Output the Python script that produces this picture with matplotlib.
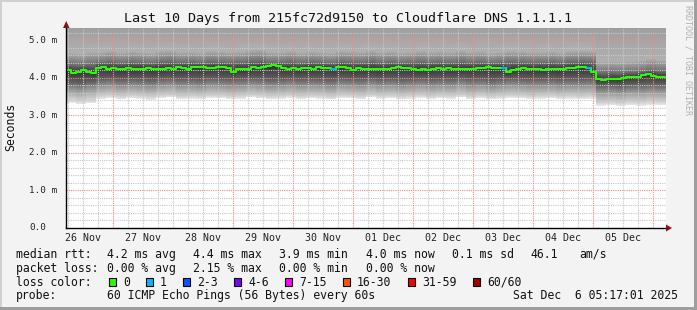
import numpy as np
import matplotlib
matplotlib.use("Agg")
import matplotlib.pyplot as plt
from matplotlib.patches import Polygon, Rectangle
from datetime import datetime

# ---------------- data ----------------
title = "Last 10 Days from 215fc72d9150 to Cloudflare DNS 1.1.1.1"
start_time = datetime(2025, 11, 26, 5, 17, 1)
span_hours = 240
day_labels = ["26 Nov", "27 Nov", "28 Nov", "29 Nov", "30 Nov",
              "01 Dec", "02 Dec", "03 Dec", "04 Dec", "05 Dec"]
y_ticks = [0.0, 1.0, 2.0, 3.0, 4.0, 5.0]
y_tick_labels = ["0.0", "1.0 m", "2.0 m", "3.0 m", "4.0 m", "5.0 m"]
y_top = 5.333

# median rtt (ms), one value per 2 hours
median_rtt = [
    4.21, 4.14, 4.17, 4.20, 4.16, 4.13,
    4.27, 4.28, 4.25, 4.26, 4.24,
    4.24, 4.27, 4.23, 4.25, 4.25, 4.26, 4.24, 4.25,
    4.24, 4.26, 4.23, 4.28, 4.27, 4.25, 4.28, 4.30, 4.28, 4.26, 4.27, 4.28,
    4.28, 4.27, 4.17, 4.23, 4.23, 4.24, 4.28, 4.27, 4.29, 4.31, 4.34, 4.32,
    4.26, 4.25, 4.26, 4.24, 4.26, 4.27, 4.25, 4.28, 4.26, 4.27, 4.25, 4.28,
    4.29, 4.27, 4.22, 4.26, 4.25, 4.24, 4.25,
    4.24, 4.23, 4.25, 4.27, 4.28, 4.27, 4.26, 4.23, 4.22, 4.23, 4.22, 4.25,
    4.26, 4.24, 4.26, 4.25, 4.23, 4.24, 4.25, 4.24, 4.26, 4.27, 4.28, 4.27,
    4.26, 4.27, 4.15, 4.22, 4.24, 4.26, 4.25,
    4.23, 4.24, 4.22, 4.25, 4.24, 4.23, 4.25, 4.26, 4.27, 4.28, 4.28, 4.26,
    4.15, 3.98, 3.95, 3.96, 3.98, 3.97, 4.01, 4.02, 4.02, 4.03, 4.07, 4.10,
    4.06, 4.03, 4.03,
]
# 2-hour slots where one ping of 60 was lost
loss_slots = [53, 87, 104]

# smoke boundaries (ms), one value per 4 hours, from lowest ping upwards
smoke_b0 = [3.33, 3.30, 3.32,
    3.44, 3.46, 3.43, 3.47, 3.45, 3.42, 3.46,
    3.48, 3.44, 3.45, 3.43, 3.47, 3.46, 3.44,
    3.45, 3.48, 3.46, 3.43, 3.45, 3.47, 3.44,
    3.46, 3.45, 3.43, 3.47, 3.46, 3.44, 3.48,
    3.45, 3.46, 3.43, 3.45, 3.47, 3.44, 3.46,
    3.45, 3.48, 3.44, 3.46, 3.43, 3.45, 3.47,
    3.46, 3.44, 3.45, 3.46, 3.43, 3.45, 3.44, 3.45,
    3.26, 3.27, 3.25, 3.27, 3.26, 3.28, 3.27]
smoke_b1 = [3.45, 3.42, 3.46,
    3.53, 3.55, 3.52, 3.54, 3.53, 3.51, 3.55,
    3.56, 3.52, 3.53, 3.52, 3.55, 3.54, 3.52,
    3.53, 3.56, 3.54, 3.52, 3.53, 3.55, 3.52,
    3.54, 3.53, 3.51, 3.55, 3.54, 3.52, 3.56,
    3.53, 3.54, 3.52, 3.53, 3.55, 3.52, 3.54,
    3.53, 3.56, 3.52, 3.54, 3.51, 3.53, 3.55,
    3.54, 3.52, 3.53, 3.54, 3.52, 3.53, 3.52, 3.53,
    3.36, 3.37, 3.35, 3.38, 3.37, 3.39, 3.38]
smoke_b2 = [3.68, 3.66, 3.70,
    3.76, 3.78, 3.74, 3.77, 3.75, 3.73, 3.77,
    3.79, 3.75, 3.76, 3.74, 3.78, 3.77, 3.75,
    3.76, 3.79, 3.77, 3.74, 3.76, 3.78, 3.75,
    3.77, 3.76, 3.73, 3.78, 3.77, 3.75, 3.79,
    3.76, 3.77, 3.74, 3.76, 3.78, 3.75, 3.77,
    3.76, 3.79, 3.75, 3.77, 3.73, 3.76, 3.78,
    3.77, 3.75, 3.76, 3.77, 3.74, 3.76, 3.75, 3.76,
    3.60, 3.61, 3.59, 3.62, 3.61, 3.63, 3.62]
smoke_b3 = [3.88, 3.86, 3.90,
    3.97, 3.98, 3.95, 3.97, 3.96, 3.94, 3.98,
    3.99, 3.96, 3.97, 3.95, 3.98, 3.97, 3.96,
    3.97, 3.99, 3.98, 3.95, 3.96, 3.98, 3.96,
    3.97, 3.96, 3.94, 3.98, 3.97, 3.96, 3.99,
    3.96, 3.97, 3.95, 3.96, 3.98, 3.96, 3.97,
    3.96, 3.99, 3.96, 3.97, 3.94, 3.96, 3.98,
    3.97, 3.96, 3.96, 3.97, 3.95, 3.96, 3.96, 3.97,
    3.80, 3.81, 3.79, 3.82, 3.83, 3.84, 3.83]
smoke_b4 = [4.36, 4.34, 4.37,
    4.42, 4.44, 4.41, 4.43, 4.42, 4.40, 4.44,
    4.45, 4.42, 4.43, 4.41, 4.44, 4.43, 4.42,
    4.43, 4.46, 4.47, 4.42, 4.42, 4.44, 4.41,
    4.43, 4.42, 4.40, 4.44, 4.43, 4.42, 4.45,
    4.42, 4.43, 4.41, 4.42, 4.44, 4.42, 4.43,
    4.42, 4.45, 4.42, 4.43, 4.40, 4.42, 4.44,
    4.43, 4.42, 4.42, 4.43, 4.41, 4.44, 4.45, 4.44,
    4.14, 4.15, 4.14, 4.16, 4.18, 4.22, 4.19]
smoke_b5 = [4.68, 4.66, 4.70,
    4.70, 4.73, 4.69, 4.72, 4.70, 4.68, 4.73,
    4.74, 4.70, 4.71, 4.69, 4.73, 4.72, 4.70,
    4.71, 4.75, 4.76, 4.70, 4.70, 4.73, 4.69,
    4.72, 4.70, 4.68, 4.73, 4.72, 4.70, 4.74,
    4.70, 4.72, 4.69, 4.70, 4.73, 4.70, 4.72,
    4.70, 4.74, 4.70, 4.72, 4.68, 4.70, 4.73,
    4.72, 4.70, 4.70, 4.72, 4.69, 4.73, 4.74, 4.73,
    4.44, 4.45, 4.44, 4.46, 4.48, 4.52, 4.49]

loss_names = ["0", "1", "2-3", "4-6", "7-15", "16-30", "31-59", "60/60"]
loss_colors = ["#26ff00", "#00b8ff", "#0059ff", "#7e00ff", "#ff00ff",
               "#ff5500", "#ff0000", "#a10000"]

# ---------------- figure ----------------
W, H = 697, 310
plt.rcParams["font.family"] = ["DejaVu Sans Mono", "DejaVu Sans"]
fig = plt.figure(figsize=(W / 100, H / 100), dpi=100, facecolor="#f3f3f3")

def fx(x):
    return x / W

def fy(y):
    return 1 - y / H

# frame
fig.patches.append(Rectangle((0, fy(2)), 1, 2 / H, transform=fig.transFigure, color="#d0d0d0", lw=0))
fig.patches.append(Rectangle((0, 0), 2 / W, 1, transform=fig.transFigure, color="#d0d0d0", lw=0))
fig.patches.append(Rectangle((0, 0), 1, 3 / H, transform=fig.transFigure, color="#9e9e9e", lw=0))
fig.patches.append(Rectangle((fx(694), 0), 3 / W, 1, transform=fig.transFigure, color="#9e9e9e", lw=0))

L, T, R, B = 66, 28, 666, 228
ax = fig.add_axes([fx(L), fy(B), (R - L) / W, (B - T) / H])
ax.set_facecolor("white")
for s in ["top", "right"]:
    ax.spines[s].set_visible(False)
for s in ["left", "bottom"]:
    ax.spines[s].set_color("black")
    ax.spines[s].set_linewidth(1.0)
    ax.spines[s].set_zorder(6)
ax.set_xticks([])
ax.set_yticks([])

# smoke: grey density between the ping boundaries, darkest at the median
n_m = len(median_rtt)
n_s = len(smoke_b0)
ys = np.linspace(0, y_top, 801)
shade_levels = [0.91, 0.80, 0.60, 0.38, 0.20, 0.44, 0.69, 0.62]
img = np.ones((ys.size, n_m))
for i in range(n_m):
    j = i * n_s // n_m
    xp = np.array([smoke_b0[j], smoke_b1[j], smoke_b2[j], smoke_b3[j],
                   median_rtt[i], smoke_b4[j], smoke_b5[j], y_top])
    xp = np.maximum.accumulate(xp)
    col = np.interp(ys, xp, shade_levels)
    col[ys < smoke_b0[j]] = 1.0
    img[:, i] = col
ax.imshow(img, extent=(0, span_hours, 0, y_top), origin="lower", aspect="auto",
          interpolation="nearest", cmap="gray", vmin=0, vmax=1, zorder=1)
ax.set_xlim(0, span_hours)
ax.set_ylim(0, y_top)

# grid (on top of smoke)
first_midnight = (datetime(2025, 11, 27) - start_time).total_seconds() / 3600
minor_start = (datetime(2025, 11, 26, 6) - start_time).total_seconds() / 3600
h = minor_start
while h < span_hours:
    if abs((h - first_midnight) % 24) < 1e-6:
        ax.axvline(h, color="#f08a8a", lw=0.8, ls=(0, (1, 1)), zorder=3)
    else:
        ax.axvline(h, color="#c8c8c8", lw=0.8, ls=(0, (1, 1)), zorder=2)
    h += 6
for k in range(1, 27):
    v = k * 0.2
    if v > y_top:
        break
    if k % 5 == 0:
        ax.axhline(v, color="#f08a8a", lw=0.8, ls=(0, (1, 1)), zorder=3)
    else:
        ax.axhline(v, color="#c8c8c8", lw=0.8, ls=(0, (1, 1)), zorder=2)

# median line
xm = np.arange(n_m + 1) * (span_hours / n_m)
ax.step(xm, np.append(median_rtt, median_rtt[-1]), where="post", color=loss_colors[0], lw=1.5, zorder=5)
step_w = span_hours / n_m
for i in loss_slots:
    ax.plot([xm[i], xm[i] + step_w], [median_rtt[i]] * 2, color=loss_colors[1], lw=1.5, zorder=5,
            solid_capstyle="butt")

# tick labels
ytr = ax.get_yaxis_transform()
for v, lab in zip(y_ticks, y_tick_labels):
    ax.text((29.3 - L) / (R - L), v, lab, transform=ytr, ha="left", va="center",
            fontsize=6.7, color="#222222", clip_on=False)
xtr = ax.get_xaxis_transform()
first_noon = (datetime(2025, 11, 26, 12) - start_time).total_seconds() / 3600
for k, lab in enumerate(day_labels):
    ax.text(first_noon + 24 * k, (B - 238) / (B - T), lab, transform=xtr, ha="center", va="center",
            fontsize=7.2, color="#222222", clip_on=False)

# arrows
fig.patches.append(Polygon([(fx(63), fy(28)), (fx(69.5), fy(28)), (fx(66.2), fy(21))],
                           closed=True, transform=fig.transFigure, color="#8b1010", lw=0))
fig.patches.append(Polygon([(fx(666), fy(224.5)), (fx(666), fy(231.5)), (fx(672), fy(228))],
                           closed=True, transform=fig.transFigure, color="#8b1010", lw=0))

# titles
fig.text(fx(348.5), fy(18.5), title, ha="center", va="center", fontsize=9.6, color="#111111")
fig.text(fx(11), fy(126.5), "Seconds", rotation=90, ha="center", va="center", fontsize=8.3, color="#111111")
fig.text(fx(688), fy(60), "RRDTOOL / TOBI OETIKER", rotation=-90, ha="center", va="center",
         fontsize=6.0, color="#b0b0b0")

# legend
lfs = 8.3

def lt(x, y, s):
    fig.text(fx(x), fy(y), s, ha="left", va="center", fontsize=lfs, color="#111111")

y1, y2, y3, y4 = 254.3, 268.3, 282.3, 295.7
lt(16, y1, "median rtt:")
lt(107.3, y1, "4.2 ms avg")
lt(192.7, y1, "4.4 ms max")
lt(279.3, y1, "3.9 ms min")
lt(365.7, y1, "4.0 ms now")
lt(451.7, y1, "0.1 ms sd")
lt(530, y1, "46.1")
lt(579.3, y1, "am/s")
lt(16, y2, "packet loss:")
lt(107.3, y2, "0.00 % avg")
lt(192.7, y2, "2.15 % max")
lt(279.3, y2, "0.00 % min")
lt(365.7, y2, "0.00 % now")
lt(16, y3, "loss color:")
box_x = [108.7, 145.7, 182.7, 233.7, 284.7, 342.7, 407.7, 472.7]
for bx, name, c in zip(box_x, loss_names, loss_colors):
    fig.patches.append(Rectangle((fx(bx), fy(286)), 7 / W, 8.5 / H, transform=fig.transFigure,
                                 facecolor=c, edgecolor="black", lw=0.8))
    lt(bx + 14.3, y3, name)
lt(16, y4, "probe:")
lt(107.3, y4, "60 ICMP Echo Pings (56 Bytes) every 60s")
lt(513.3, y4, "Sat Dec  6 05:17:01 2025")

fig.savefig("out.png", dpi=100, facecolor=fig.get_facecolor())
